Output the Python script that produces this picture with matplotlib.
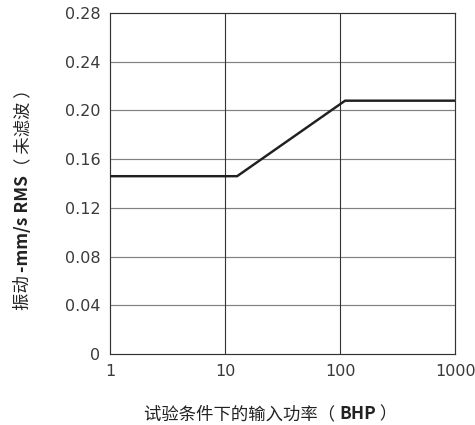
import matplotlib
matplotlib.use("Agg")
import matplotlib.pyplot as plt
from matplotlib import font_manager as fm
import numpy as np

FAMILY = ['Noto Sans CJK SC', 'DejaVu Sans']
plt.rcParams['font.family'] = FAMILY

# data
power_bhp = [1, 12.7, 110, 1000]
vibration = [0.146, 0.146, 0.208, 0.208]
x_ticks = [1, 10, 100, 1000]
x_tick_labels = ['1', '10', '100', '1000']
y_ticks = [0, 0.04, 0.08, 0.12, 0.16, 0.20, 0.24, 0.28]
y_tick_labels = ['0', '0.04', '0.08', '0.12', '0.16', '0.20', '0.24', '0.28']
xlabel_parts = [('试验条件下的输入功率（ ', 'normal'), ('BHP', 'bold'), (' ）', 'normal')]
ylabel_parts = [('振动 ', 'normal'), ('-mm/s RMS', 'bold'), ('（ 未滤波 ）', 'normal')]

W, H = 475, 425
DPI = 100
fig = plt.figure(figsize=(W / DPI, H / DPI), dpi=DPI)
ax = fig.add_axes([110 / W, 1 - 354 / H, 345.5 / W, 341 / H])

ax.set_xscale('log')
ax.set_xlim(1, 1000)
ax.set_ylim(0, 0.28)
ax.set_xticks(x_ticks)
ax.set_xticklabels(x_tick_labels)
ax.set_yticks(y_ticks)
ax.set_yticklabels(y_tick_labels)
ax.xaxis.set_minor_locator(matplotlib.ticker.NullLocator())
ax.tick_params(length=0, labelsize=11.5, labelcolor='#3a3a3a', pad=7)
for lab in ax.get_xticklabels() + ax.get_yticklabels():
    lab.set_family('DejaVu Sans')

for y in y_ticks[1:-1]:
    ax.axhline(y, color='#808080', lw=0.85, zorder=1)
for x in x_ticks[1:-1]:
    ax.axvline(x, color='#333333', lw=0.8, zorder=1)
for s in ax.spines.values():
    s.set_color('#333333')
    s.set_linewidth(0.85)

ax.plot(power_bhp, vibration, color='#231f20', lw=1.75, zorder=3, solid_joinstyle='miter')

fs = 12.5
fig.canvas.draw()
r = fig.canvas.get_renderer()


def widths_of(parts):
    out = []
    for txt, w in parts:
        t = fig.text(0, 0, txt, fontsize=fs, fontweight=w)
        out.append(t.get_window_extent(r).width)
        t.remove()
    return out


def lead_offset(txt, weight):
    # horizontal ink offset that Agg applies un-rotated to rotated text
    try:
        prop = fm.FontProperties(family=FAMILY, size=fs, weight=weight)
        font = fm.get_font(fm.fontManager._find_fonts_by_props(prop))
        font.clear()
        font.set_size(fs, DPI)
        font.set_text(txt, 0.0)
        return font.get_bitmap_offset()[0] / 64.0
    except Exception:
        return 0.0


# x label (mixed weight)
widths = widths_of(xlabel_parts)
total = sum(widths)
cx, base_y = 271, H - 419
x0 = cx - total / 2
for (txt, w), wd in zip(xlabel_parts, widths):
    fig.text(x0 / W, base_y / H, txt, fontsize=fs, fontweight=w, ha='left',
             va='baseline', color='#222222')
    x0 += wd

# y label (rotated, mixed weight)
heights = widths_of(ylabel_parts)
total = sum(heights)
cy, base_x = H - 195, 28
y0 = cy - total / 2
for (txt, w), ht in zip(ylabel_parts, heights):
    xo = lead_offset(txt, w)
    fig.text((base_x - xo) / W, (y0 + xo) / H, txt, fontsize=fs, fontweight=w,
             rotation=90, rotation_mode='anchor', ha='left', va='baseline',
             color='#222222')
    y0 += ht

fig.savefig('out.png', dpi=DPI)
